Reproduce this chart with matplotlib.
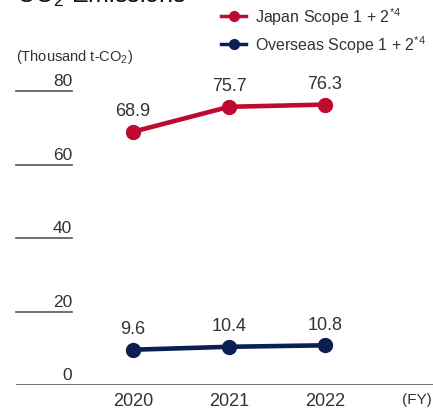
import matplotlib
matplotlib.use("Agg")
import matplotlib.pyplot as plt
import matplotlib.transforms as mtransforms

years = [2020, 2021, 2022]
japan = [68.9, 75.7, 76.3]
overseas = [9.6, 10.4, 10.8]
yticks = [0, 20, 40, 60, 80]
series_names = ["Japan Scope 1 + 2$^{*4}$", "Overseas Scope 1 + 2$^{*4}$"]

red = "#BE0A2E"
navy = "#0B1F52"
txt = "#333333"

W, H = 433, 410
fig = plt.figure(figsize=(W / 100, H / 100), dpi=100)
plt.rcParams["font.family"] = ["Liberation Sans", "DejaVu Sans"]
plt.rcParams["mathtext.fontset"] = "custom"
plt.rcParams["mathtext.rm"] = "Liberation Sans"
plt.rcParams["mathtext.default"] = "regular"

# axes box in pixels: left 16, right 433, bottom y=386, top y=92
ax = fig.add_axes([16 / W, (H - 386) / H, (433 - 16) / W, (386 - 92) / H])
ax.set_xlim(2018.781, 2023.125)
ax.set_ylim(0, 80)
for s in ax.spines.values():
    s.set_visible(False)
ax.set_xticks([])
ax.set_yticks([])

# baseline
ax.axhline(0, color="#555555", lw=1.2)
trans = mtransforms.blended_transform_factory(ax.transAxes, ax.transData)
for v in yticks:
    if v > 0:
        ax.plot([0, 56 / 417], [v, v], color="#555555", lw=1.2, transform=trans, clip_on=False)
    ax.annotate(str(v), xy=(56 / 417, v), xycoords=trans, xytext=(0, 2),
                textcoords="offset points", ha="right", va="bottom",
                fontsize=12.5, color=txt)

for y in years:
    ax.annotate(str(y), xy=(y, 0), xytext=(0, -5), textcoords="offset points",
                ha="center", va="top", fontsize=13, color=txt)
ax.annotate("(FY)", xy=(2022.96, 0), xytext=(0, -5), textcoords="offset points",
            ha="center", va="top", fontsize=11, color=txt)

for vals, c in [(japan, red), (overseas, navy)]:
    ax.plot(years, vals, color=c, lw=3.3, marker="o", markersize=10, clip_on=False, zorder=3)
    for x, v in zip(years, vals):
        ax.annotate(f"{v}", xy=(x, v), xytext=(0, 9), textcoords="offset points",
                    ha="center", va="bottom", fontsize=13, color=txt)

# legend drawn by hand in figure pixels
for i, (name, c) in enumerate(zip(series_names, [red, navy])):
    yp = 1 - (17 + 28 * i) / H
    fig.add_artist(plt.Line2D([221 / W, 246 / W], [yp, yp], color=c, lw=2.5,
                              transform=fig.transFigure))
    fig.add_artist(plt.Line2D([233.5 / W], [yp], color=c, marker="o", markersize=7,
                              transform=fig.transFigure))
    fig.text(255 / W, yp, name, ha="left", va="center", fontsize=11.5, color=txt)

fig.text(16 / W, 1 - 57 / H, "(Thousand t-CO$_2$)", ha="left", va="center", fontsize=10.5, color=txt)
fig.text(16 / W, 1 - 3 / H, "CO$_2$ Emissions", ha="left", va="baseline", fontsize=18, color="#111111")

fig.savefig("out.png", dpi=100)
